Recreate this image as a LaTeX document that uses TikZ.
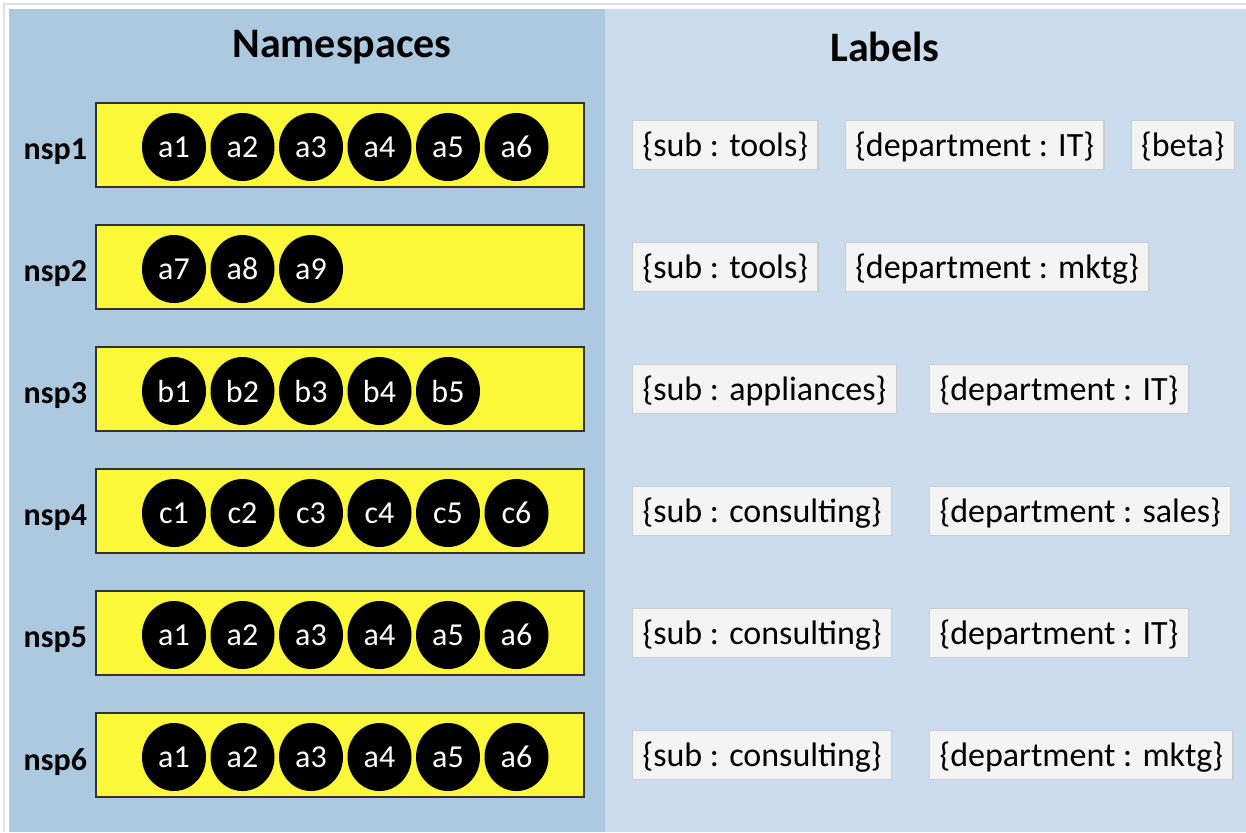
\documentclass[tikz,border=0pt]{standalone}
\usepackage{fontspec}
\setmainfont{Carlito}
\usepackage{xcolor}
\usetikzlibrary{positioning,shapes.geometric}

\definecolor{nsbg}{RGB}{173,201,224}
\definecolor{lbbg}{RGB}{203,220,238}
\definecolor{nsyellow}{RGB}{250,248,56}
\definecolor{lbfill}{RGB}{244,244,244}

\begin{document}
\begin{tikzpicture}[x=0.5pt,y=-0.5pt,node distance=34.25pt,
                title/.style={font=\fontsize{21}{25}\selectfont\bfseries},
                nsp box/.style={rectangle,draw=black!80,line width=0.6pt,fill=nsyellow,
                                minimum width=244pt,minimum height=42pt},
                nsp name/.style={inner sep=0pt,yshift=-3.5pt,font=\fontsize{16}{19}\selectfont\bfseries},
                pod/.style={ellipse,fill=black,text=white,inner sep=0pt,
                            minimum width=32pt,minimum height=34pt,
                            font=\fontsize{16}{19}\selectfont},
                lbl/.style={rectangle,draw=black!20,line width=0.6pt,fill=lbfill,
                            inner xsep=5pt,minimum height=24.5pt,
                            text height=14.2pt,text depth=2.8pt,
                            font=\fontsize{17}{20}\selectfont}]

      \useasboundingbox (0,0) rectangle (1246,832);
      % panels
      \draw[black!12,line width=0.8pt] (4,832) -- (4,4) -- (1246,4);
      \fill[nsbg] (9,9) rectangle (605,832);
      \fill[lbbg] (605,9) rectangle (1246,832);

      \node[title] (nstitle) at (342,47) {Namespaces};
      \node[title] (lbtitle) at (885,47) {Labels};

      % nsp1
      \node[nsp box] (nsp1) at (340,145) {};
      \node[nsp name] [left=4pt of nsp1] {nsp1};
      \node[pod] (p11) at (174,147) {a1};
      \node[pod] (p12) [right of=p11] {a2};
      \node[pod] (p13) [right of=p12] {a3};
      \node[pod] (p14) [right of=p13] {a4};
      \node[pod] (p15) [right of=p14] {a5};
      \node[pod] (p16) [right of=p15] {a6};
      \node[lbl,anchor=west] (l11) at (632,145) {\{sub : tools\}};
      \node[lbl] (l12) [right=13pt of l11] {\{department : IT\}};
      \node[lbl] (l13) [right=13pt of l12] {\{beta\}};

      % nsp2
      \node[nsp box] (nsp2) at (340,267) {};
      \node[nsp name] [left=4pt of nsp2] {nsp2};
      \node[pod] (p21) at (174,269) {a7};
      \node[pod] (p22) [right of=p21] {a8};
      \node[pod] (p23) [right of=p22] {a9};
      \node[lbl,anchor=west] (l21) at (632,267) {\{sub : tools\}};
      \node[lbl] (l22) [right=13pt of l21] {\{department : mktg\}};

      % nsp3
      \node[nsp box] (nsp3) at (340,389) {};
      \node[nsp name] [left=4pt of nsp3] {nsp3};
      \node[pod] (p31) at (174,391) {b1};
      \node[pod] (p32) [right of=p31] {b2};
      \node[pod] (p33) [right of=p32] {b3};
      \node[pod] (p34) [right of=p33] {b4};
      \node[pod] (p35) [right of=p34] {b5};
      \node[lbl,anchor=west] (l31) at (632,389) {\{sub : appliances\}};
      \node[lbl,anchor=west] (l32) at (929,389) {\{department : IT\}};

      % nsp4
      \node[nsp box] (nsp4) at (340,511) {};
      \node[nsp name] [left=4pt of nsp4] {nsp4};
      \node[pod] (p41) at (174,513) {c1};
      \node[pod] (p42) [right of=p41] {c2};
      \node[pod] (p43) [right of=p42] {c3};
      \node[pod] (p44) [right of=p43] {c4};
      \node[pod] (p45) [right of=p44] {c5};
      \node[pod] (p46) [right of=p45] {c6};
      \node[lbl,anchor=west] (l41) at (632,511) {\{sub : consulting\}};
      \node[lbl,anchor=west] (l42) at (929,511) {\{department : sales\}};

      % nsp5
      \node[nsp box] (nsp5) at (340,633) {};
      \node[nsp name] [left=4pt of nsp5] {nsp5};
      \node[pod] (p51) at (174,635) {a1};
      \node[pod] (p52) [right of=p51] {a2};
      \node[pod] (p53) [right of=p52] {a3};
      \node[pod] (p54) [right of=p53] {a4};
      \node[pod] (p55) [right of=p54] {a5};
      \node[pod] (p56) [right of=p55] {a6};
      \node[lbl,anchor=west] (l51) at (632,633) {\{sub : consulting\}};
      \node[lbl,anchor=west] (l52) at (929,633) {\{department : IT\}};

      % nsp6
      \node[nsp box] (nsp6) at (340,755) {};
      \node[nsp name] [left=4pt of nsp6] {nsp6};
      \node[pod] (p61) at (174,757) {a1};
      \node[pod] (p62) [right of=p61] {a2};
      \node[pod] (p63) [right of=p62] {a3};
      \node[pod] (p64) [right of=p63] {a4};
      \node[pod] (p65) [right of=p64] {a5};
      \node[pod] (p66) [right of=p65] {a6};
      \node[lbl,anchor=west] (l61) at (632,755) {\{sub : consulting\}};
      \node[lbl,anchor=west] (l62) at (929,755) {\{department : mktg\}};
  \end{tikzpicture}
\end{document}
